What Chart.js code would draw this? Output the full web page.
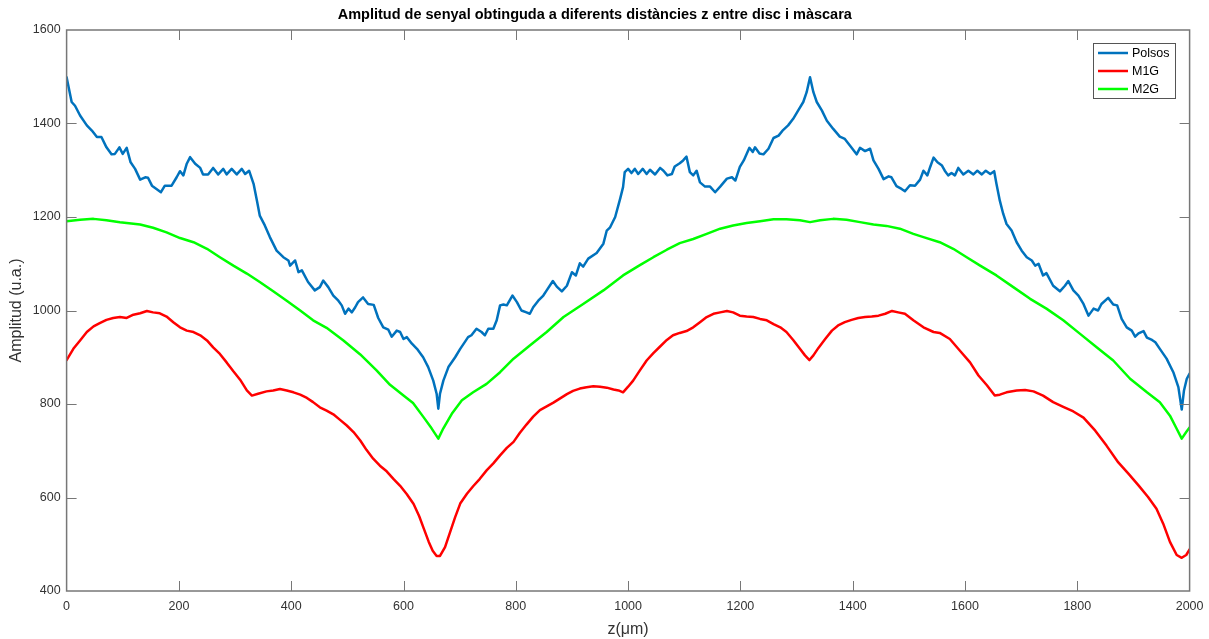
<!DOCTYPE html>
<html>
<head>
<meta charset="utf-8">
<title>Amplitud de senyal</title>
<script src="https://cdn.jsdelivr.net/npm/chart.js@4/dist/chart.umd.min.js"></script>
<style>
  html, body { margin: 0; padding: 0; background: #fff; }
  #wrap { width: 1209px; height: 639px; }
</style>
</head>
<body>
<div id="wrap"><canvas id="myChart" width="1209" height="639"></canvas></div>
<script>
// posicions z (um) i amplituds llegides per a cada senyal
const zPolsos = [0,9,15,24,36,45,54,62,71,80,86,94,100,107,114,122,131,140,145,152,160,168,175,187,196,202,208,214,220,229,238,243,252,261,270,279,285,294,303,312,318,325,333,339,344,353,362,374,386,395,398,407,413,419,430,442,451,457,466,475,484,490,496,502,508,514,519,528,537,547,555,564,573,579,588,594,600,606,615,624,635,644,653,659,662,665,671,680,692,701,710,715,721,730,739,745,751,760,766,772,778,784,794,802,810,819,825,831,840,849,855,866,873,882,891,900,907,914,920,929,944,956,962,968,977,986,991,994,1000,1006,1012,1018,1026,1033,1039,1048,1057,1063,1070,1078,1083,1092,1098,1104,1110,1116,1122,1128,1137,1146,1155,1164,1176,1185,1191,1199,1206,1216,1222,1226,1234,1241,1250,1259,1268,1276,1285,1294,1303,1312,1318,1324,1330,1336,1345,1354,1365,1377,1386,1395,1407,1413,1422,1431,1437,1446,1455,1464,1469,1478,1487,1493,1502,1511,1520,1526,1533,1538,1544,1551,1559,1564,1570,1576,1582,1588,1597,1606,1615,1622,1630,1637,1645,1652,1656,1662,1668,1674,1683,1692,1701,1710,1719,1725,1731,1739,1745,1757,1769,1778,1784,1793,1802,1811,1820,1829,1837,1843,1855,1864,1871,1879,1888,1897,1903,1909,1918,1924,1933,1939,1947,1959,1971,1980,1986,1990,1995,2000];
const polsos = [1499,1446,1438,1417,1396,1385,1371,1371,1349,1334,1335,1349,1335,1348,1317,1303,1280,1285,1284,1267,1260,1253,1267,1267,1285,1298,1289,1314,1328,1314,1305,1291,1291,1305,1291,1303,1291,1303,1291,1303,1292,1299,1271,1235,1203,1182,1157,1128,1114,1107,1096,1107,1082,1086,1061,1043,1050,1064,1050,1032,1021,1011,993,1004,996,1007,1018,1028,1014,1012,984,964,959,944,957,954,939,943,929,918,900,879,850,822,790,822,850,879,900,918,934,943,947,961,954,947,961,961,979,1011,1013,1011,1032,1018,1000,996,993,1007,1021,1032,1043,1063,1051,1041,1053,1082,1075,1101,1094,1111,1123,1143,1171,1178,1200,1240,1264,1296,1303,1294,1303,1292,1303,1292,1301,1291,1305,1299,1289,1292,1308,1315,1321,1329,1296,1289,1299,1274,1265,1265,1253,1265,1282,1285,1278,1307,1321,1348,1339,1349,1336,1334,1346,1369,1374,1386,1396,1410,1428,1446,1467,1499,1467,1446,1428,1406,1389,1372,1367,1353,1334,1348,1341,1346,1321,1303,1281,1287,1285,1266,1260,1255,1268,1267,1280,1299,1289,1307,1327,1317,1310,1299,1289,1294,1289,1305,1291,1299,1291,1299,1291,1299,1292,1298,1271,1235,1207,1185,1171,1146,1128,1114,1107,1096,1100,1075,1080,1053,1041,1053,1063,1043,1032,1014,989,1004,1000,1014,1027,1013,1011,982,964,957,944,951,956,942,937,932,918,897,868,836,788,829,854,865];

const zM1G = [0,12,24,36,48,59,71,83,95,107,119,131,143,154,166,178,190,202,214,226,238,250,261,273,285,297,309,321,330,341,356,368,380,392,404,416,428,439,451,463,475,487,499,511,523,534,546,558,570,582,594,606,618,628,636,645,652,659,665,674,683,692,701,713,724,736,748,760,772,784,796,807,819,831,843,855,867,879,891,902,914,926,938,950,962,974,983,991,1000,1009,1021,1033,1045,1057,1069,1080,1092,1104,1116,1128,1140,1152,1164,1176,1187,1199,1211,1223,1235,1247,1259,1271,1282,1294,1306,1315,1323,1330,1339,1351,1363,1374,1386,1398,1410,1422,1434,1446,1458,1470,1481,1493,1508,1526,1544,1555,1573,1591,1609,1624,1639,1653,1662,1674,1692,1707,1722,1739,1757,1775,1793,1811,1832,1852,1873,1891,1909,1926,1941,1953,1965,1977,1986,1994,2000];
const m1g = [894,918,936,954,966,973,980,984,986,984,991,994,999,996,994,987,975,964,957,954,947,936,921,907,889,870,852,829,818,822,827,829,832,829,825,820,813,804,793,786,778,766,754,740,722,702,683,668,656,640,625,607,586,560,534,505,486,475,475,494,526,558,587,608,624,640,658,673,690,706,719,738,756,773,787,795,803,812,821,828,833,836,838,837,835,831,829,825,837,850,872,893,909,923,937,947,952,956,964,975,986,993,996,999,996,989,987,986,982,979,971,964,954,937,918,904,894,904,920,939,957,968,975,980,984,986,987,989,993,999,996,993,979,964,954,952,939,914,889,861,840,818,820,825,829,830,827,818,804,794,784,771,743,711,675,651,626,601,576,544,505,477,471,477,489];

const zM2G = [0,24,48,71,95,131,154,178,202,226,250,273,297,321,344,368,392,416,439,463,493,523,552,576,600,617,635,650,662,671,686,704,724,748,772,796,825,855,885,920,956,991,1021,1045,1069,1092,1116,1140,1164,1187,1211,1235,1259,1282,1306,1324,1342,1365,1389,1413,1437,1460,1484,1508,1526,1555,1579,1603,1627,1656,1686,1716,1745,1775,1805,1835,1864,1894,1924,1947,1965,1977,1986,1994,2000];
const m2g = [1191,1194,1196,1193,1189,1184,1177,1167,1155,1146,1132,1114,1096,1079,1061,1041,1021,1000,979,963,936,906,872,841,818,802,773,748,726,748,779,808,825,843,868,897,925,954,986,1014,1043,1075,1097,1114,1130,1144,1153,1164,1175,1182,1187,1191,1195,1195,1193,1189,1193,1196,1194,1189,1184,1181,1175,1164,1157,1146,1132,1114,1096,1075,1050,1025,1004,979,950,921,893,854,825,804,775,747,726,740,750];

const xTicks = [0,200,400,600,800,1000,1200,1400,1600,1800,2000];
const yTicks = [400,600,800,1000,1200,1400,1600];

const toPoints = (zs, vs) => zs.map((z, i) => ({ x: z, y: vs[i] }));

const FONT = '"Liberation Sans", Arial, sans-serif';
const AXIS_COLOR = '#777777';
const TEXT_COLOR = '#333333';

// caixa de l'eix amb marques cap a dins als quatre costats, i llegenda a dalt a la dreta
const boxAxes = {
    id: 'boxAxes',
    afterDraw(chart) {
        const c = chart.ctx;
        const a = chart.chartArea;
        const sx = chart.scales.x, sy = chart.scales.y;
        const tl = 10;
        c.save();
        c.strokeStyle = AXIS_COLOR;
        c.lineWidth = 1;
        c.beginPath();
        // les marques dels extrems queden tapades per la vora
        xTicks.slice(1, -1).forEach(t => {
            const px = Math.round(sx.getPixelForValue(t)) + 0.5;
            c.moveTo(px, a.bottom); c.lineTo(px, a.bottom - tl);
            c.moveTo(px, a.top); c.lineTo(px, a.top + tl);
        });
        yTicks.slice(1, -1).forEach(t => {
            const py = Math.round(sy.getPixelForValue(t)) + 0.5;
            c.moveTo(a.left, py); c.lineTo(a.left + tl, py);
            c.moveTo(a.right, py); c.lineTo(a.right - tl, py);
        });
        c.stroke();
        c.lineWidth = 1.5;
        c.strokeRect(a.left, a.top, a.right - a.left, a.bottom - a.top);

        // llegenda
        const lx = 1093, ly = 43, lw = 82, lh = 55;
        c.fillStyle = '#fff';
        c.fillRect(lx, ly, lw, lh);
        c.lineWidth = 1;
        c.strokeStyle = '#555';
        c.strokeRect(lx + 0.5, ly + 0.5, lw, lh);
        c.font = '12.5px ' + FONT;
        c.textBaseline = 'middle';
        chart.data.datasets.forEach((ds, i) => {
            const yy = ly + 10 + i * 18;
            c.strokeStyle = ds.borderColor;
            c.lineWidth = 2.5;
            c.beginPath();
            c.moveTo(lx + 5, yy); c.lineTo(lx + 35, yy);
            c.stroke();
            c.fillStyle = '#000';
            c.fillText(ds.label, lx + 39, yy + 0.5);
        });
        c.restore();
    }
};

const ctx = document.querySelector('#myChart');

new Chart(ctx, {
    type: 'line',
    data: {
        datasets: [
            {
                label: 'Polsos',
                data: toPoints(zPolsos, polsos),
                borderColor: '#0072BD',
                borderWidth: 2.5
            },
            {
                label: 'M1G',
                data: toPoints(zM1G, m1g),
                borderColor: '#FF0000',
                borderWidth: 2.5
            },
            {
                label: 'M2G',
                data: toPoints(zM2G, m2g),
                borderColor: '#00FF00',
                borderWidth: 2.5
            }
        ]
    },
    options: {
        responsive: false,
        animation: false,
        layout: {
            padding: { left: 0, right: 19.4, top: 0, bottom: 0 }
        },
        elements: {
            point: { radius: 0 },
            line: { tension: 0, borderJoinStyle: 'round', borderCapStyle: 'round' }
        },
        plugins: {
            legend: { display: false },
            tooltip: { enabled: false },
            title: {
                display: true,
                text: 'Amplitud de senyal obtinguda a diferents distàncies z entre disc i màscara',
                color: '#000',
                font: { family: FONT, size: 14.5, weight: 'bold' },
                padding: { top: 6, bottom: 6.6 }
            }
        },
        scales: {
            x: {
                type: 'linear',
                min: 0,
                max: 2000,
                afterBuildTicks: s => { s.ticks = xTicks.map(v => ({ value: v })); },
                afterFit: s => {
                    s.height = 48;
                    s.paddingLeft = 0;
                    s.paddingRight = 0;
                },
                ticks: {
                    color: TEXT_COLOR,
                    font: { family: FONT, size: 12.5 },
                    padding: 8,
                    maxRotation: 0,
                    callback: v => String(v)
                },
                grid: { display: false, drawTicks: false, tickLength: 0 },
                border: { display: false },
                title: {
                    display: true,
                    text: 'z(μm)',
                    color: TEXT_COLOR,
                    font: { family: FONT, size: 16 },
                    padding: { top: 0, bottom: 0 }
                }
            },
            y: {
                min: 400,
                max: 1600,
                afterBuildTicks: s => { s.ticks = yTicks.map(v => ({ value: v })); },
                afterFit: s => { s.width = 66.6; },
                ticks: {
                    color: TEXT_COLOR,
                    font: { family: FONT, size: 12.5 },
                    padding: 6,
                    callback: v => String(v)
                },
                grid: { display: false, drawTicks: false, tickLength: 0 },
                border: { display: false },
                title: {
                    display: true,
                    text: 'Amplitud (u.a.)',
                    color: TEXT_COLOR,
                    font: { family: FONT, size: 16 },
                    padding: { top: 7, bottom: 0 }
                }
            }
        }
    },
    plugins: [boxAxes]
});
</script>
</body>
</html>
